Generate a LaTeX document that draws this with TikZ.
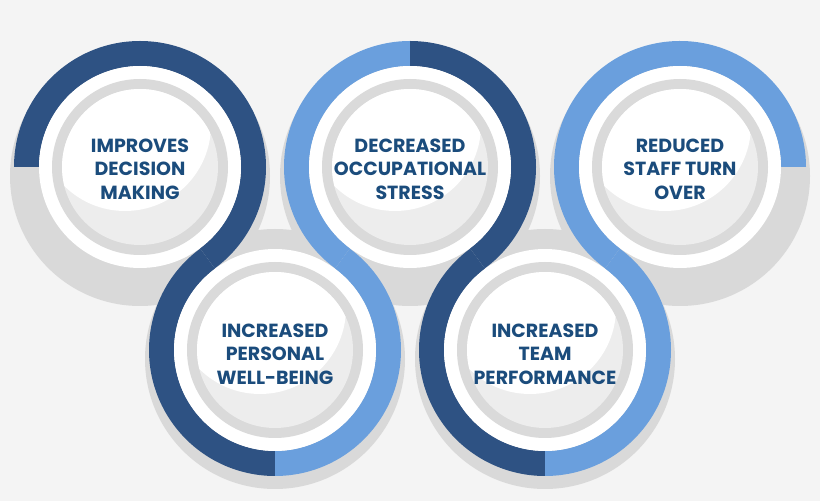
\documentclass[tikz,border=0pt]{standalone}
\usepackage{fontspec}
\setmainfont{Poppins}
\definecolor{bgc}{HTML}{F4F4F4}
\definecolor{shadowc}{HTML}{D9D9D9}
\definecolor{ringc}{HTML}{DADADA}
\definecolor{innerc}{HTML}{EDEDED}
\definecolor{darkb}{HTML}{2E5283}
\definecolor{lightb}{HTML}{6A9FDD}
\definecolor{textc}{HTML}{1B4C7C}
\newcommand\bandarc[4]{\fill[#4] ([shift={(#2:126)}]#1) arc[start angle=#2,end angle=#3,radius=126] -- ([shift={(#3:101)}]#1) arc[start angle=#3,end angle=#2,radius=101] -- cycle;}
\tikzset{lbl/.style={text=textc,align=center,font=\bfseries\fontsize{19}{23.5}\selectfont,inner sep=0pt}}
\begin{document}
\begin{tikzpicture}[x=1pt,y=1pt]
\fill[bgc] (0,0) rectangle (820,501);
\useasboundingbox (0,0) rectangle (820,501);
\coordinate (c1) at (140,334);
\coordinate (c2) at (410,334);
\coordinate (c3) at (680,334);
\coordinate (c4) at (275,151);
\coordinate (c5) at (545,151);
\foreach \c in {c1,c2,c3,c4,c5}{\fill[shadowc] ([yshift=-9]\c) circle (130);}
\bandarc{c1}{180}{-53.58}{darkb}
\bandarc{c4}{126.42}{270}{darkb}
\bandarc{c4}{270}{413.58}{lightb}
\bandarc{c2}{233.58}{90}{lightb}
\bandarc{c2}{90}{-53.58}{darkb}
\bandarc{c5}{126.42}{270}{darkb}
\bandarc{c5}{270}{413.58}{lightb}
\bandarc{c3}{233.58}{0}{lightb}
\foreach \c in {c1,c2,c3,c4,c5}{
  \fill[white] (\c) circle (101);
  \fill[ringc] (\c) circle (88);
  \fill[innerc] (\c) circle (78);
  \begin{scope}
    \clip (\c) circle (78);
    \fill[white] ([shift={(-15,42)}]\c) circle (86);
  \end{scope}
}
\node[lbl] (t1) at ([yshift=-2]c1) {IMPROVES\\DECISION\\MAKING};
\node[lbl] (t2) at ([yshift=-2]c2) {DECREASED\\OCCUPATIONAL\\STRESS};
\node[lbl] (t3) at ([yshift=-2]c3) {REDUCED\\STAFF TURN\\OVER};
\node[lbl] (t4) at ([yshift=-4]c4) {INCREASED\\PERSONAL\\WELL-BEING};
\node[lbl] (t5) at ([yshift=-4]c5) {INCREASED\\TEAM\\PERFORMANCE};
\end{tikzpicture}
\end{document}
